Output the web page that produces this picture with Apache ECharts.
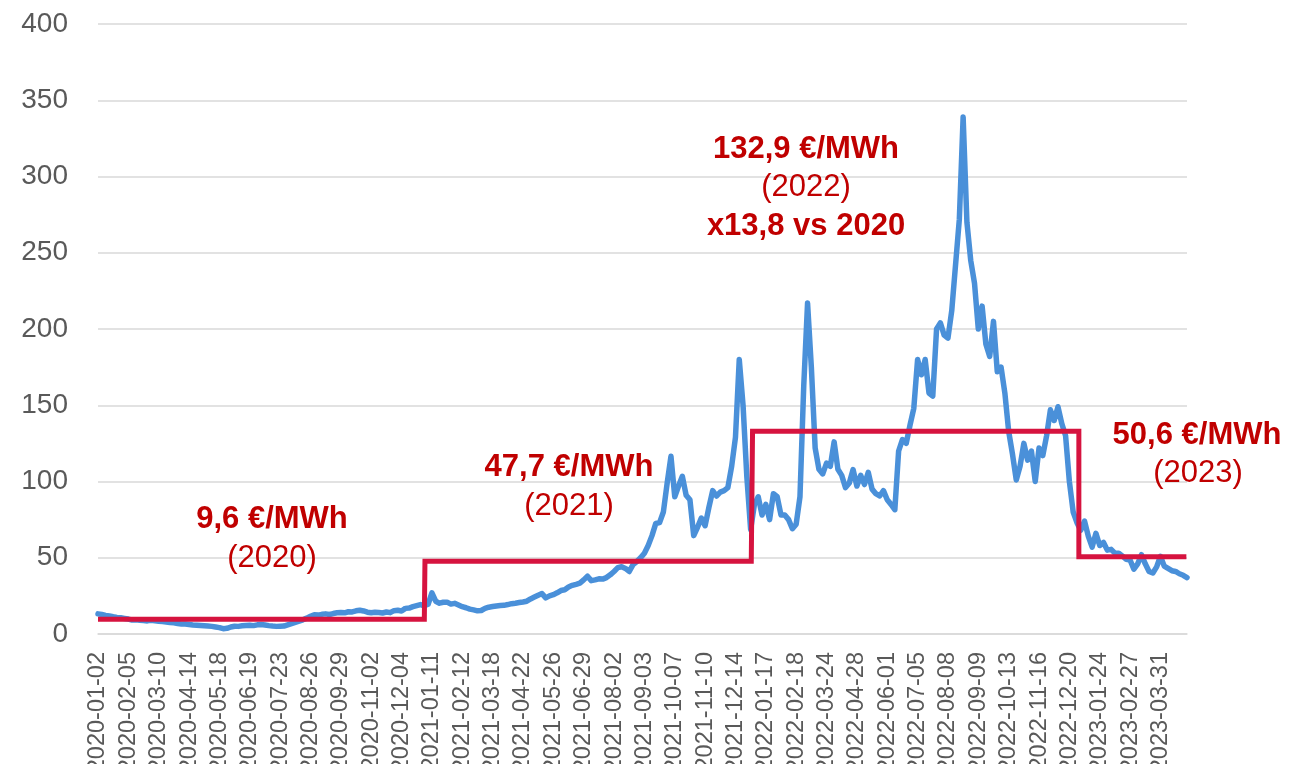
<!DOCTYPE html>
<html>
<head>
<meta charset="utf-8">
<script src="https://cdn.jsdelivr.net/npm/echarts@6/dist/echarts.min.js"></script>
<style>
  html, body { margin: 0; padding: 0; background: #fff; }
  #chart { width: 1291px; height: 764px; }
</style>
</head>
<body>
<div id="chart"></div>
<script>
// trading days (weekdays minus market holidays)
var startDate = '2020-01-02';
var endDate = '2023-05-02';
var holidays = ['2020-04-10', '2020-12-25', '2021-01-01', '2021-04-02',
                '2022-04-15', '2022-12-26', '2023-04-07'];

// dates printed under the axis
var tickLabels = [
  '2020-01-02', '2020-02-05', '2020-03-10', '2020-04-14', '2020-05-18', '2020-06-19',
  '2020-07-23', '2020-08-26', '2020-09-29', '2020-11-02', '2020-12-04', '2021-01-11',
  '2021-02-12', '2021-03-18', '2021-04-22', '2021-05-26', '2021-06-29', '2021-08-02',
  '2021-09-03', '2021-10-07', '2021-11-10', '2021-12-14', '2022-01-17', '2022-02-18',
  '2022-03-24', '2022-04-28', '2022-06-01', '2022-07-05', '2022-08-08', '2022-09-09',
  '2022-10-13', '2022-11-16', '2022-12-20', '2023-01-24', '2023-02-27', '2023-03-31'
];

// gas price €/MWh, one reading every 3rd trading day
var sampleStep = 3;
var prices = [
  13.2, 12.8, 12.2, 11.8, 11.3, 10.9, 10.6, 10.2,
  9.8, 9.1, 9.3, 9.0, 8.8, 8.6, 9.0, 8.7,
  8.4, 8.2, 7.9, 7.5, 7.3, 6.9, 6.6, 6.5,
  6.2, 5.9, 5.8, 5.6, 5.4, 5.2, 5.0, 4.6,
  4.2, 3.5, 3.7, 4.6, 5.1, 5.0, 5.4, 5.6,
  5.8, 5.5, 6.0, 6.2, 5.9, 5.5, 5.2, 5.0,
  5.1, 5.2, 6.0, 6.8, 7.6, 8.4, 9.3, 10.4,
  11.6, 12.6, 12.4, 12.9, 13.2, 12.8, 13.4, 13.9,
  14.1, 13.9, 14.6, 14.5, 15.2, 15.6, 15.1, 14.3,
  13.9, 14.3, 14.1, 13.8, 14.4, 14.0, 15.3, 15.6,
  15.1, 16.8, 17.0, 17.9, 18.6, 19.3, 18.5, 19.5,
  27.0, 21.5, 20.2, 20.8, 20.9, 19.6, 20.1, 19.0,
  17.9, 17.2, 16.3, 15.8, 15.2, 15.4, 16.8, 17.6,
  18.0, 18.4, 18.7, 18.8, 19.3, 19.9, 20.2, 20.6,
  21.0, 21.5, 23.0, 24.2, 25.4, 26.5, 23.7, 25.0,
  25.8, 27.0, 28.5, 29.0, 30.8, 31.9, 32.6, 33.4,
  35.5, 37.9, 35.0, 35.5, 36.2, 36.0, 37.0, 38.8,
  41.0, 43.5, 44.1, 43.0, 41.0, 45.5, 47.5, 50.0,
  53.0, 58.0, 64.5, 72.5, 73.0, 80.0, 99.0, 116.5,
  90.0, 97.0, 103.4, 91.0, 88.0, 64.5, 70.0, 76.0,
  71.0, 83.0, 94.0, 90.5, 93.0, 94.0, 96.0, 110.0,
  129.0, 180.0, 150.0, 103.0, 68.5, 85.0, 90.0, 78.0,
  85.0, 75.0, 92.0, 90.0, 78.0, 78.0, 75.0, 69.0,
  72.0, 90.0, 163.0, 217.0, 175.0, 122.0, 108.0, 105.0,
  112.0, 110.0, 126.0, 108.0, 104.0, 96.0, 99.0, 107.8,
  97.0, 104.0, 98.0, 106.0, 95.0, 92.0, 90.5, 94.0,
  88.0, 85.0, 81.5, 120.0, 127.5, 125.0, 137.0, 148.0,
  180.0, 170.0, 180.0, 158.0, 156.0, 200.0, 204.0, 196.0,
  194.0, 212.0, 242.0, 272.0, 339.0, 270.0, 245.0, 230.0,
  200.0, 215.0, 190.0, 182.0, 205.0, 172.0, 175.0, 158.0,
  133.0, 118.0, 101.0, 110.0, 125.0, 114.0, 120.0, 100.0,
  122.0, 117.0, 130.0, 147.0, 140.0, 149.0, 138.0, 130.0,
  100.0, 80.0, 73.0, 68.0, 74.0, 64.0, 57.0, 66.0,
  58.0, 60.0, 55.0, 55.5, 53.0, 53.0, 51.0, 49.0,
  48.5, 42.5, 46.0, 52.0, 46.0, 41.0, 40.0, 44.0,
  51.0, 44.5, 43.0, 41.5, 41.0, 39.5, 38.5, 37.0
];

// yearly averages (red step line)
var years = ['2020', '2021', '2022', '2023'];
var yearAverages = [9.6, 47.7, 132.9, 50.6];

var categories = [];
var d = new Date(startDate + 'T00:00:00Z');
var last = new Date(endDate + 'T00:00:00Z');
while (d <= last) {
  var s = d.toISOString().slice(0, 10);
  var wd = d.getUTCDay();
  if (wd !== 0 && wd !== 6 && holidays.indexOf(s) < 0) categories.push(s);
  d.setUTCDate(d.getUTCDate() + 1);
}

var priceData = prices.map(function (v, j) { return [j * sampleStep, v]; });
var avgData = categories.map(function (c) { return yearAverages[years.indexOf(c.slice(0, 4))]; });

var font = "'Liberation Sans', Arial, sans-serif";
var red = '#C00000';

function note(text, x, y, bold) {
  return {
    type: 'text', x: x, y: y, z: 100,
    style: {
      text: text, fill: red, align: 'center', verticalAlign: 'middle',
      font: (bold ? 'bold ' : '') + '31px ' + font
    }
  };
}

var chart = echarts.init(document.getElementById('chart'));
chart.setOption({
  animation: false,
  backgroundColor: '#ffffff',
  grid: { left: 98, right: 104, top: 24, bottom: 130, outerBoundsMode: 'none', containLabel: false },
  xAxis: {
    type: 'category',
    boundaryGap: false,
    data: categories,
    axisLine: { show: true, lineStyle: { color: '#D9D9D9', width: 1.5 } },
    axisTick: { show: false },
    splitLine: { show: false },
    axisLabel: {
      rotate: 90,
      margin: 18,
      fontSize: 23.5,
      fontFamily: font,
      color: '#595959',
      interval: function (idx, value) { return tickLabels.indexOf(value) >= 0; }
    }
  },
  yAxis: {
    type: 'value',
    min: 0,
    max: 400,
    interval: 50,
    axisLine: { show: false },
    axisTick: { show: false },
    axisLabel: { fontSize: 28, fontFamily: font, color: '#595959', margin: 30 },
    splitLine: { lineStyle: { color: '#D9D9D9', width: 1.5 } }
  },
  series: [
    {
      name: 'Prix',
      type: 'line',
      data: priceData,
      showSymbol: false,
      lineStyle: { color: '#4A90D9', width: 5.5, join: 'round', cap: 'round' },
      itemStyle: { color: '#4A90D9' }
    },
    {
      name: 'Moyenne annuelle',
      type: 'line',
      step: 'middle',
      data: avgData,
      showSymbol: false,
      lineStyle: { color: '#D6133F', width: 5, join: 'miter' },
      itemStyle: { color: '#D6133F' }
    }
  ],
  graphic: [
    note('9,6 €/MWh', 272, 519, true),
    note('(2020)', 272, 558, false),
    note('47,7 €/MWh', 569, 467, true),
    note('(2021)', 569, 506, false),
    note('132,9 €/MWh', 806, 149, true),
    note('(2022)', 806, 187, false),
    note('x13,8 vs 2020', 806, 226, true),
    note('50,6 €/MWh', 1197, 435, true),
    note('(2023)', 1198, 473, false)
  ]
});
</script>
</body>
</html>
